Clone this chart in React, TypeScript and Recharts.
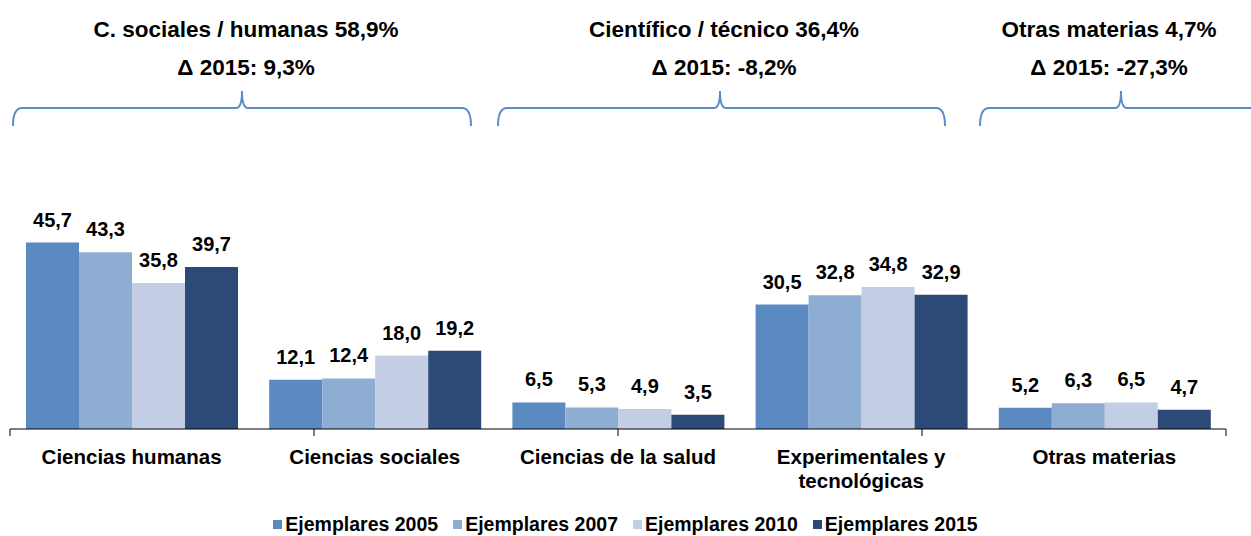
import { useEffect } from 'react';
import { BarChart, Bar, XAxis, YAxis, LabelList } from 'recharts';

const categories = [
  'Ciencias humanas',
  'Ciencias sociales',
  'Ciencias de la salud',
  'Experimentales y\ntecnológicas',
  'Otras materias',
];
const ejemplares2005 = [45.7, 12.1, 6.5, 30.5, 5.2];
const ejemplares2007 = [43.3, 12.4, 5.3, 32.8, 6.3];
const ejemplares2010 = [35.8, 18.0, 4.9, 34.8, 6.5];
const ejemplares2015 = [39.7, 19.2, 3.5, 32.9, 4.7];
const boundaryTicks = [0, 1, 2, 3, 4, 5];

const seriesNames = ['Ejemplares 2005', 'Ejemplares 2007', 'Ejemplares 2010', 'Ejemplares 2015'];
const seriesKeys = ['e2005', 'e2007', 'e2010', 'e2015'];
const colors = ['#5A8AC0', '#8EADD3', '#C3CEE4', '#2C4A77'];

// group annotations above the bars
const groups = [
  { title: 'C. sociales / humanas 58,9%', delta: 'Δ 2015: 9,3%', textX: 246, x1: 13, xm: 242, x2: 471 },
  { title: 'Científico / técnico 36,4%', delta: 'Δ 2015: -8,2%', textX: 724, x1: 498, xm: 720, x2: 945 },
  { title: 'Otras materias 4,7%', delta: 'Δ 2015: -27,3%', textX: 1109, x1: 980, xm: 1121, x2: 1300 },
];

const data = categories.map((name, i) => ({
  name,
  e2005: ejemplares2005[i],
  e2007: ejemplares2007[i],
  e2010: ejemplares2010[i],
  e2015: ejemplares2015[i],
}));

const W = 1251;
const H = 536;
const FONT = '"Liberation Sans", Arial, sans-serif';

const fmt = (v: any) => Number(v).toFixed(1).replace('.', ',');

const CategoryTick = ({ x, y, payload }: any) => {
  const lines = String(payload.value).split('\n');
  return (
    <text x={x} y={y} textAnchor="middle" fontFamily={FONT} fontWeight="bold" fontSize={20.5} fill="#000">
      {lines.map((l, i) => (
        <tspan key={i} x={x} dy={i === 0 ? 34 : 24}>{l}</tspan>
      ))}
    </text>
  );
};

const bracePath = (x1: number, xm: number, x2: number) => {
  const yb = 126, yh = 108, yt = 91;
  return `M ${x1} ${yb} Q ${x1} ${yh} ${x1 + 9} ${yh} L ${xm - 6} ${yh} Q ${xm} ${yh} ${xm} ${yt} ` +
    `Q ${xm} ${yh} ${xm + 6} ${yh} L ${x2 - 9} ${yh} Q ${x2} ${yh} ${x2} ${yb}`;
};

export default function App() {
  useEffect(() => {
    document.body.style.margin = '0';
  }, []);

  return (
    <div style={{ position: 'relative', width: W, height: H, background: '#fff', fontFamily: FONT }}>
      <BarChart
        width={W}
        height={H}
        data={data}
        margin={{ top: 225, right: 25, left: 10, bottom: 46 }}
        barCategoryGap={16}
        barGap={0}
      >
        <XAxis
          xAxisId="cat"
          dataKey="name"
          axisLine={false}
          tickLine={false}
          tickSize={0}
          tickMargin={0}
          height={60}
          interval={0}
          tick={<CategoryTick />}
        />
        <XAxis
          xAxisId="axis"
          type="number"
          domain={[0, 5]}
          ticks={boundaryTicks}
          allowDataOverflow
          tickFormatter={() => ''}
          tickSize={7}
          height={1}
          axisLine={{ stroke: '#000', strokeWidth: 1 }}
          tickLine={{ stroke: '#000', strokeWidth: 1 }}
        />
        <YAxis hide domain={[0, 50]} />
        {seriesKeys.map((k, i) => (
          <Bar key={k} xAxisId="cat" dataKey={k} name={seriesNames[i]} fill={colors[i]} isAnimationActive={false}>
            <LabelList
              dataKey={k}
              position="top"
              offset={16}
              formatter={fmt}
              style={{ fontFamily: FONT, fontWeight: 'bold', fontSize: 20, fill: '#000' }}
            />
          </Bar>
        ))}
      </BarChart>

      <svg width={W} height={H} style={{ position: 'absolute', left: 0, top: 0, pointerEvents: 'none' }}>
        {groups.map((g) => (
          <g key={g.title}>
            <text x={g.textX} y={37} textAnchor="middle" fontFamily={FONT} fontWeight="bold" fontSize={22.5}>{g.title}</text>
            <text x={g.textX} y={75} textAnchor="middle" fontFamily={FONT} fontWeight="bold" fontSize={22.5}>{g.delta}</text>
            <path d={bracePath(g.x1, g.xm, g.x2)} fill="none" stroke="#5B8DC8" strokeWidth={2} />
          </g>
        ))}
      </svg>

      <div
        style={{
          position: 'absolute',
          left: 0,
          width: W,
          top: 513,
          display: 'flex',
          justifyContent: 'center',
          gap: 15,
          fontWeight: 'bold',
          fontSize: 19.5,
          lineHeight: '22px',
        }}
      >
        {seriesNames.map((n, i) => (
          <div key={n} style={{ display: 'flex', alignItems: 'center' }}>
            <span style={{ display: 'inline-block', width: 9, height: 9, background: colors[i], marginRight: 3 }} />
            {n}
          </div>
        ))}
      </div>
    </div>
  );
}
